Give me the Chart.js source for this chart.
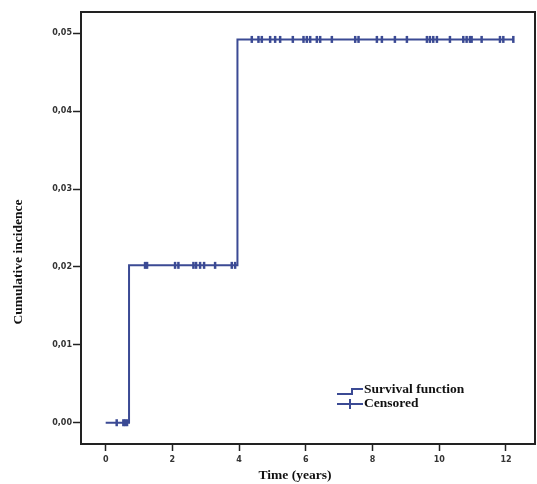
<!DOCTYPE html>
<html>
  <head>
    <title>Cumulative incidence</title>
    <script src="https://cdn.jsdelivr.net/npm/chart.js"></script>
    <style>
      html, body { margin: 0; padding: 0; background: #fff; }
      #wrap { width: 537px; height: 484px; }
    </style>
  </head>
  <body>
    <div id="wrap"><canvas id="kmChart" width="537" height="484"></canvas></div>
    <script>
      // step function (time in years, cumulative incidence)
      const stepTimes = [0, 0.70, 3.95, 12.22];
      const stepValues = [0, 0.0202, 0.0492, 0.0492];

      // censored observations, grouped by the step level they sit on
      const censoredLevel0 = [0.33, 0.53, 0.58, 0.64];
      const censoredLevel1 = [1.18, 1.24, 2.08, 2.18, 2.63, 2.71, 2.83, 2.95, 3.28, 3.78, 3.88];
      const censoredLevel2 = [4.38, 4.58, 4.68, 4.93, 5.08, 5.23, 5.61, 5.93, 6.03, 6.13, 6.33, 6.43,
        6.78, 7.48, 7.58, 8.13, 8.28, 8.67, 9.03, 9.63, 9.72, 9.82, 9.93, 10.32, 10.72, 10.82,
        10.92, 10.97, 11.27, 11.82, 11.92, 12.22];

      const xTicks = [0, 2, 4, 6, 8, 10, 12];
      const yTicks = [0, 0.01, 0.02, 0.03, 0.04, 0.05];

      const lineColor = "#3b4a94";
      const axisColor = "#222";

      const stepData = stepTimes.map((t, i) => ({ x: t, y: stepValues[i] }));
      const censored = [censoredLevel0, censoredLevel1, censoredLevel2]
        .flatMap((list, lvl) => list.map((t) => ({ x: t, y: stepValues[lvl] })));

      // box round the plot, axis titles and legend
      const extras = {
        id: "extras",
        afterDraw(chart) {
          const { ctx, chartArea: a } = chart;
          ctx.save();
          ctx.strokeStyle = axisColor;
          ctx.lineWidth = 2;
          ctx.beginPath();
          ctx.moveTo(a.left, a.top);
          ctx.lineTo(a.right, a.top);
          ctx.lineTo(a.right, a.bottom);
          ctx.stroke();

          ctx.fillStyle = "#111";
          ctx.font = "bold 13.5px 'Liberation Serif', 'Times New Roman', serif";
          ctx.textAlign = "center";
          ctx.textBaseline = "middle";
          ctx.fillText("Time (years)", 295, 476);
          ctx.save();
          ctx.translate(19, 262);
          ctx.rotate(-Math.PI / 2);
          ctx.fillText("Cumulative incidence", 0, 0);
          ctx.restore();

          // legend
          ctx.strokeStyle = lineColor;
          ctx.lineWidth = 2;
          ctx.beginPath();
          ctx.moveTo(337, 394);
          ctx.lineTo(352, 394);
          ctx.lineTo(352, 389);
          ctx.lineTo(363, 389);
          ctx.stroke();
          ctx.beginPath();
          ctx.moveTo(337, 404);
          ctx.lineTo(363, 404);
          ctx.moveTo(350, 399);
          ctx.lineTo(350, 409);
          ctx.stroke();
          ctx.textAlign = "left";
          ctx.fillText("Survival function", 364, 390);
          ctx.fillText("Censored", 364, 404);
          ctx.restore();
        },
      };

      const tickFont = { family: "'DejaVu Sans', sans-serif", size: 8, weight: "bold" };

      new Chart(document.getElementById("kmChart"), {
        type: "scatter",
        data: {
          datasets: [
            {
              label: "Survival function",
              data: stepData,
              showLine: true,
              stepped: true,
              borderColor: lineColor,
              borderWidth: 2,
              pointRadius: 0,
              fill: false,
            },
            {
              label: "Censored",
              data: censored,
              showLine: false,
              pointStyle: "line",
              rotation: 90,
              pointRadius: 3.5,
              borderColor: lineColor,
              backgroundColor: lineColor,
              borderWidth: 2.5,
            },
          ],
        },
        options: {
          responsive: false,
          animation: false,
          layout: { autoPadding: false, padding: { top: 12, right: 2, left: 0, bottom: 0 } },
          plugins: {
            legend: { display: false },
            tooltip: { enabled: false },
          },
          scales: {
            x: {
              type: "linear",
              min: -0.74,
              max: 12.87,
              afterBuildTicks: (s) => { s.ticks = xTicks.map((v) => ({ value: v })); },
              afterFit: (s) => { s.height = 40; },
              grid: { drawOnChartArea: false, tickLength: 7, tickColor: axisColor, tickWidth: 1.5 },
              border: { color: axisColor, width: 2 },
              ticks: { font: tickFont, color: "#333", padding: 4, maxRotation: 0 },
            },
            y: {
              type: "linear",
              min: -0.00273,
              max: 0.05272,
              afterBuildTicks: (s) => { s.ticks = yTicks.map((v) => ({ value: v })); },
              afterFit: (s) => { s.width = 81; },
              grid: { drawOnChartArea: false, tickLength: 8, tickColor: axisColor, tickWidth: 1.5 },
              border: { color: axisColor, width: 2 },
              ticks: {
                font: tickFont,
                color: "#333",
                padding: 1,
                callback: (v) => v.toFixed(2).replace(".", ","),
              },
            },
          },
        },
        plugins: [extras],
      });
    </script>
  </body>
</html>
